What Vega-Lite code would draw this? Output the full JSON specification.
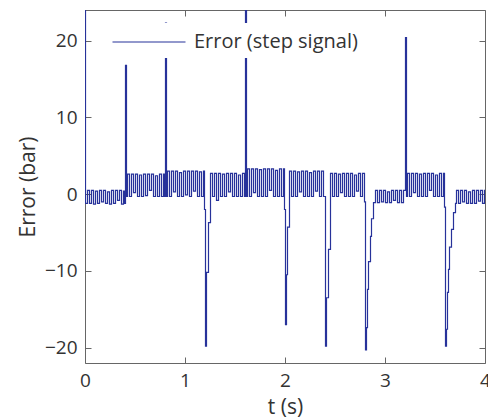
{
  "$schema": "https://vega.github.io/schema/vega-lite/v6.json",
  "width": 400,
  "height": 353,
  "autosize": {"type": "none"},
  "padding": {"left": 85, "top": 10, "right": 3, "bottom": 57},
  "background": "white",
  "config": {
    "view": {"stroke": null},
    "font": "Open Sans",
    "axis": {
      "domainColor": "#666666",
      "tickColor": "#666666",
      "tickSize": -6,
      "labelFontSize": 19,
      "labelColor": "#333333",
      "labelFont": "Open Sans",
      "titleFont": "Open Sans",
      "titleFontSize": 21,
      "titleFontWeight": "normal",
      "titleColor": "#333333",
      "grid": false,
      "labelFlush": false,
      "labelPadding": 14
    }
  },
  "data": {
    "values": [
      {"t": 0, "e": 24}, {"t": 0.005, "e": -1.2}, {"t": 0.025, "e": 0.5}, {"t": 0.045, "e": -1.2}, {"t": 0.065, "e": 0.5}, {"t": 0.085, "e": -1.3}, {"t": 0.105, "e": 0.4}, {"t": 0.125, "e": -1.2}, {"t": 0.145, "e": 0.5}, {"t": 0.165, "e": -1.0}, {"t": 0.185, "e": 0.5}, {"t": 0.205, "e": -1.2}, {"t": 0.225, "e": 0.3}, {"t": 0.245, "e": -1.3}, {"t": 0.265, "e": 0.5}, {"t": 0.285, "e": -1.2}, {"t": 0.305, "e": 0.5}, {"t": 0.325, "e": -0.8}, {"t": 0.345, "e": 0.5}, {"t": 0.365, "e": -1.3}, {"t": 0.385, "e": 0.4}, {"t": 0.395, "e": -1.2},
      {"t": 0.405, "e": 16.8}, {"t": 0.415, "e": -0.3}, {"t": 0.425, "e": 2.6}, {"t": 0.445, "e": -0.3}, {"t": 0.465, "e": 2.6}, {"t": 0.485, "e": 0.2}, {"t": 0.505, "e": 2.6}, {"t": 0.525, "e": -0.3}, {"t": 0.545, "e": 2.5}, {"t": 0.565, "e": -0.3}, {"t": 0.585, "e": 2.6}, {"t": 0.605, "e": -0.2}, {"t": 0.625, "e": 2.6}, {"t": 0.645, "e": 0.5}, {"t": 0.665, "e": 2.6}, {"t": 0.685, "e": -0.3}, {"t": 0.705, "e": 2.4}, {"t": 0.725, "e": -0.3}, {"t": 0.745, "e": 2.6}, {"t": 0.765, "e": -0.3}, {"t": 0.785, "e": 2.6}, {"t": 0.795, "e": -0.3},
      {"t": 0.805, "e": 22.3}, {"t": 0.815, "e": -0.3}, {"t": 0.825, "e": 3.0}, {"t": 0.845, "e": -0.3}, {"t": 0.865, "e": 3.0}, {"t": 0.885, "e": 0.3}, {"t": 0.905, "e": 3.0}, {"t": 0.925, "e": -0.3}, {"t": 0.945, "e": 2.8}, {"t": 0.965, "e": -0.3}, {"t": 0.985, "e": 3.0}, {"t": 1.005, "e": -0.1}, {"t": 1.025, "e": 3.0}, {"t": 1.045, "e": -0.3}, {"t": 1.065, "e": 3.0}, {"t": 1.085, "e": 0.4}, {"t": 1.105, "e": 3.0}, {"t": 1.125, "e": -0.3}, {"t": 1.145, "e": 2.9}, {"t": 1.165, "e": -0.3}, {"t": 1.185, "e": 3.0}, {"t": 1.195, "e": -2.0},
      {"t": 1.205, "e": -19.8}, {"t": 1.215, "e": -10.2}, {"t": 1.235, "e": -3.7},
      {"t": 1.255, "e": 2.7}, {"t": 1.275, "e": -0.3}, {"t": 1.295, "e": 2.7}, {"t": 1.315, "e": -0.8}, {"t": 1.335, "e": 2.7}, {"t": 1.355, "e": -0.3}, {"t": 1.375, "e": 2.6}, {"t": 1.395, "e": -0.3}, {"t": 1.415, "e": 2.7}, {"t": 1.435, "e": 0.3}, {"t": 1.455, "e": 2.7}, {"t": 1.475, "e": -0.3}, {"t": 1.495, "e": 2.7}, {"t": 1.515, "e": -0.3}, {"t": 1.535, "e": 2.5}, {"t": 1.555, "e": -0.3}, {"t": 1.575, "e": 2.7}, {"t": 1.595, "e": -0.3},
      {"t": 1.605, "e": 26}, {"t": 1.615, "e": -0.3}, {"t": 1.625, "e": 3.3}, {"t": 1.645, "e": -0.3}, {"t": 1.665, "e": 3.3}, {"t": 1.685, "e": 0.2}, {"t": 1.705, "e": 3.3}, {"t": 1.725, "e": -0.3}, {"t": 1.745, "e": 3.2}, {"t": 1.765, "e": -0.3}, {"t": 1.785, "e": 3.3}, {"t": 1.805, "e": -0.3}, {"t": 1.825, "e": 3.3}, {"t": 1.845, "e": 0.5}, {"t": 1.865, "e": 3.3}, {"t": 1.885, "e": -0.3}, {"t": 1.905, "e": 3.1}, {"t": 1.925, "e": -0.3}, {"t": 1.945, "e": 3.3}, {"t": 1.965, "e": -0.3}, {"t": 1.985, "e": 3.3}, {"t": 1.995, "e": -2.0},
      {"t": 2.005, "e": -17.0}, {"t": 2.015, "e": -10.5}, {"t": 2.025, "e": -4.3},
      {"t": 2.045, "e": 3.0}, {"t": 2.065, "e": -0.3}, {"t": 2.085, "e": 3.0}, {"t": 2.105, "e": -0.3}, {"t": 2.125, "e": 2.9}, {"t": 2.145, "e": 0.3}, {"t": 2.165, "e": 3.0}, {"t": 2.185, "e": -0.3}, {"t": 2.205, "e": 3.0}, {"t": 2.225, "e": -0.3}, {"t": 2.245, "e": 2.8}, {"t": 2.265, "e": -0.3}, {"t": 2.285, "e": 3.0}, {"t": 2.305, "e": 0.4}, {"t": 2.325, "e": 3.0}, {"t": 2.345, "e": -0.3}, {"t": 2.365, "e": 3.0}, {"t": 2.385, "e": -0.3},
      {"t": 2.405, "e": -19.8}, {"t": 2.415, "e": -13.5}, {"t": 2.435, "e": -7.2},
      {"t": 2.455, "e": 2.7}, {"t": 2.475, "e": -0.3}, {"t": 2.495, "e": 2.7}, {"t": 2.515, "e": -0.3}, {"t": 2.535, "e": 2.6}, {"t": 2.555, "e": 0.2}, {"t": 2.575, "e": 2.7}, {"t": 2.595, "e": -0.3}, {"t": 2.615, "e": 2.7}, {"t": 2.635, "e": -0.3}, {"t": 2.655, "e": 2.7}, {"t": 2.675, "e": -0.3}, {"t": 2.695, "e": 2.5}, {"t": 2.715, "e": 0.4}, {"t": 2.735, "e": 2.7}, {"t": 2.755, "e": -0.3}, {"t": 2.775, "e": 2.7}, {"t": 2.795, "e": -1.0},
      {"t": 2.805, "e": -20.3}, {"t": 2.815, "e": -17.4}, {"t": 2.825, "e": -12.4}, {"t": 2.835, "e": -8.8}, {"t": 2.855, "e": -5.5}, {"t": 2.865, "e": -3.2}, {"t": 2.885, "e": -1.1},
      {"t": 2.905, "e": 0.5}, {"t": 2.925, "e": -1.1}, {"t": 2.945, "e": 0.5}, {"t": 2.965, "e": -1.0}, {"t": 2.985, "e": 0.5}, {"t": 3.005, "e": -1.1}, {"t": 3.025, "e": 0.3}, {"t": 3.045, "e": -1.1}, {"t": 3.065, "e": 0.5}, {"t": 3.085, "e": -0.8}, {"t": 3.105, "e": 0.5}, {"t": 3.125, "e": -1.1}, {"t": 3.145, "e": 0.5}, {"t": 3.165, "e": -1.1}, {"t": 3.185, "e": 0.5},
      {"t": 3.205, "e": 20.4}, {"t": 3.215, "e": -0.3}, {"t": 3.225, "e": 2.7}, {"t": 3.245, "e": -0.3}, {"t": 3.265, "e": 2.7}, {"t": 3.285, "e": 0.2}, {"t": 3.305, "e": 2.7}, {"t": 3.325, "e": -0.3}, {"t": 3.345, "e": 2.6}, {"t": 3.365, "e": -0.3}, {"t": 3.385, "e": 2.7}, {"t": 3.405, "e": -0.3}, {"t": 3.425, "e": 2.7}, {"t": 3.445, "e": 0.5}, {"t": 3.465, "e": 2.7}, {"t": 3.485, "e": -0.3}, {"t": 3.505, "e": 2.5}, {"t": 3.525, "e": -0.3}, {"t": 3.545, "e": 2.7}, {"t": 3.565, "e": -0.3}, {"t": 3.585, "e": 2.7}, {"t": 3.595, "e": -1.7},
      {"t": 3.605, "e": -19.8}, {"t": 3.615, "e": -17.6}, {"t": 3.625, "e": -12.8}, {"t": 3.635, "e": -9.8}, {"t": 3.645, "e": -6.9}, {"t": 3.665, "e": -4.6}, {"t": 3.685, "e": -2.4}, {"t": 3.705, "e": -1.2},
      {"t": 3.715, "e": 0.5}, {"t": 3.735, "e": -1.2}, {"t": 3.755, "e": 0.5}, {"t": 3.775, "e": -1.0}, {"t": 3.795, "e": 0.5}, {"t": 3.815, "e": -1.2}, {"t": 3.835, "e": 0.3}, {"t": 3.855, "e": -1.2}, {"t": 3.875, "e": 0.5}, {"t": 3.895, "e": -1.2}, {"t": 3.915, "e": 0.5}, {"t": 3.935, "e": -0.9}, {"t": 3.955, "e": 0.5}, {"t": 3.975, "e": -1.2}, {"t": 3.995, "e": 0.5}, {"t": 4.0, "e": 0.5}
    ]
  },
  "layer": [
    {
      "mark": {"type": "line", "interpolate": "step-after", "clip": true, "strokeWidth": 1.2},
      "encoding": {
        "x": {
          "field": "t", "type": "quantitative",
          "scale": {"domain": [0, 4], "nice": false},
          "axis": {"orient": "bottom", "values": [0, 1, 2, 3, 4], "title": "t (s)", "titlePadding": 6}
        },
        "y": {
          "field": "e", "type": "quantitative",
          "scale": {"domain": [-22, 24], "nice": false, "zero": false},
          "axis": {"orient": "left", "values": [-20, -10, 0, 10, 20], "title": "Error (bar)", "titlePadding": 6}
        },
        "color": {
          "datum": "Error (step signal)", "type": "nominal",
          "scale": {"range": ["#27329a"]},
          "legend": {
            "orient": "none", "legendX": 45, "legendY": 13, "title": null, "zindex": 1,
            "fillColor": "white", "padding": 6,
            "symbolType": "M-3,0H3", "symbolSize": 592, "symbolStrokeWidth": 1.1,
            "labelFontSize": 20, "labelFont": "Open Sans", "labelColor": "#333333", "labelOffset": 32, "labelLimit": 400
          }
        }
      }
    },
    {
      "mark": {"type": "line", "interpolate": "step-after", "clip": true, "strokeOpacity": 0},
      "encoding": {
        "x": {
          "field": "t", "type": "quantitative",
          "axis": {"orient": "top", "values": [0, 1, 2, 3, 4], "labels": false, "title": null}
        },
        "y": {
          "field": "e", "type": "quantitative",
          "axis": {"orient": "right", "values": [-20, -10, 0, 10, 20], "labels": false, "title": null}
        }
      }
    }
  ],
  "resolve": {"axis": {"x": "independent", "y": "independent"}}
}
